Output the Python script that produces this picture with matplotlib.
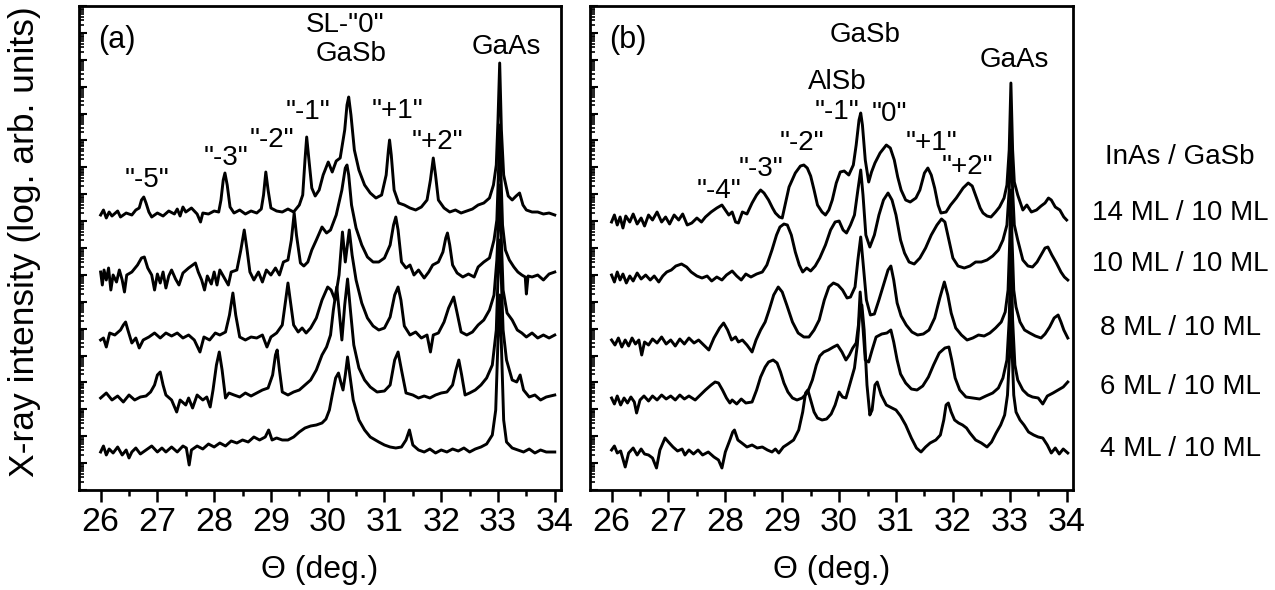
import matplotlib
matplotlib.use('Agg')
import matplotlib.pyplot as plt
from matplotlib.ticker import MultipleLocator, FixedLocator, NullFormatter
import numpy as np

plt.rcParams['font.family'] = ['Liberation Sans', 'DejaVu Sans']

# X-ray scans: (theta in deg, intensity in log. arb. units incl. stacking offset)
# panel (a): InAs/GaSb superlattices
a_14 = [(26.00, 275), (26.05, 280), (26.10, 272), (26.15, 278), (26.20, 274), (26.30, 279), (26.35, 273),
        (26.45, 277), (26.55, 275), (26.62, 280), (26.68, 282), (26.72, 290), (26.76, 293), (26.80, 287),
        (26.85, 278), (26.90, 273), (27.00, 277), (27.10, 274), (27.20, 279), (27.30, 276), (27.35, 281),
        (27.40, 274), (27.45, 283), (27.50, 278), (27.60, 282), (27.70, 276), (27.76, 268), (27.80, 277),
        (27.90, 276), (28.00, 279), (28.08, 278), (28.12, 290), (28.16, 310), (28.19, 317), (28.23, 305),
        (28.28, 283), (28.35, 277), (28.45, 280), (28.55, 276), (28.65, 279), (28.75, 277), (28.83, 281),
        (28.87, 295), (28.91, 318), (28.95, 300), (29.00, 282), (29.10, 279), (29.20, 278), (29.30, 281),
        (29.40, 278), (29.50, 285), (29.56, 295), (29.60, 330), (29.63, 353), (29.67, 330), (29.72, 302),
        (29.78, 294), (29.85, 300), (29.92, 315), (30.01, 328), (30.08, 318), (30.15, 329), (30.22, 332),
        (30.30, 360), (30.34, 385), (30.37, 393), (30.41, 375), (30.47, 340), (30.55, 320), (30.65, 305),
        (30.75, 297), (30.85, 292), (30.95, 295), (31.03, 315), (31.07, 340), (31.09, 350), (31.12, 335),
        (31.17, 300), (31.25, 287), (31.35, 285), (31.45, 282), (31.55, 280), (31.65, 283), (31.75, 290),
        (31.81, 310), (31.86, 332), (31.90, 315), (31.95, 290), (32.05, 282), (32.15, 278), (32.25, 280),
        (32.35, 277), (32.45, 279), (32.55, 281), (32.65, 285), (32.75, 287), (32.85, 292), (32.92, 305),
        (32.97, 325), (33.00, 370), (33.03, 427), (33.06, 360), (33.10, 315), (33.18, 294), (33.25, 290),
        (33.32, 294), (33.38, 297), (33.44, 285), (33.50, 280), (33.60, 278), (33.70, 278), (33.80, 276),
        (33.90, 277), (34.00, 275)]
a_10 = [(26.00, 218), (26.03, 205), (26.06, 220), (26.10, 210), (26.14, 222), (26.18, 200), (26.22, 215),
        (26.28, 208), (26.33, 220), (26.38, 210), (26.42, 198), (26.46, 215), (26.55, 218), (26.65, 225),
        (26.72, 232), (26.77, 233), (26.83, 222), (26.90, 215), (26.95, 200), (27.00, 216), (27.05, 207),
        (27.10, 218), (27.15, 202), (27.20, 214), (27.25, 220), (27.32, 211), (27.38, 205), (27.45, 217),
        (27.55, 222), (27.67, 227), (27.72, 218), (27.78, 210), (27.83, 200), (27.88, 214), (27.95, 206),
        (28.00, 218), (28.05, 205), (28.10, 220), (28.18, 212), (28.25, 205), (28.30, 218), (28.40, 220),
        (28.47, 240), (28.53, 260), (28.58, 240), (28.63, 218), (28.70, 210), (28.78, 218), (28.85, 208),
        (28.92, 220), (29.00, 215), (29.08, 222), (29.15, 215), (29.22, 228), (29.30, 230), (29.36, 250),
        (29.41, 277), (29.45, 255), (29.52, 227), (29.58, 224), (29.65, 228), (29.72, 240), (29.80, 250),
        (29.90, 263), (29.98, 257), (30.05, 260), (30.15, 275), (30.25, 300), (30.31, 322), (30.34, 325),
        (30.37, 315), (30.42, 285), (30.50, 262), (30.60, 245), (30.70, 233), (30.80, 228), (30.90, 228),
        (31.00, 232), (31.10, 245), (31.16, 265), (31.20, 273), (31.24, 260), (31.30, 228), (31.38, 222),
        (31.45, 225), (31.52, 215), (31.60, 220), (31.70, 212), (31.78, 218), (31.85, 225), (31.95, 228),
        (32.03, 238), (32.08, 252), (32.11, 257), (32.15, 245), (32.20, 225), (32.28, 217), (32.38, 213),
        (32.48, 216), (32.58, 213), (32.65, 223), (32.75, 228), (32.85, 232), (32.93, 250), (32.98, 270),
        (33.01, 320), (33.03, 365), (33.05, 320), (33.08, 265), (33.13, 240), (33.20, 230), (33.28, 223),
        (33.35, 218), (33.42, 215), (33.48, 213), (33.50, 196), (33.53, 214), (33.60, 213), (33.70, 215),
        (33.80, 210), (33.90, 216), (34.00, 218)]
a_8 = [(26.00, 150), (26.05, 152), (26.10, 143), (26.16, 157), (26.25, 155), (26.35, 160), (26.40, 165),
       (26.44, 168), (26.48, 160), (26.55, 147), (26.62, 152), (26.68, 142), (26.75, 150), (26.85, 153),
       (26.95, 157), (27.05, 152), (27.15, 157), (27.25, 154), (27.35, 157), (27.45, 152), (27.55, 155),
       (27.65, 150), (27.75, 138), (27.82, 153), (27.92, 150), (28.02, 157), (28.10, 155), (28.20, 158),
       (28.27, 175), (28.33, 197), (28.38, 175), (28.45, 153), (28.55, 150), (28.65, 153), (28.75, 152),
       (28.85, 155), (28.93, 143), (29.00, 153), (29.10, 157), (29.20, 165), (29.26, 190), (29.30, 207),
       (29.34, 190), (29.40, 165), (29.48, 158), (29.55, 162), (29.62, 157), (29.70, 162), (29.80, 172),
       (29.90, 190), (30.00, 203), (30.06, 200), (30.13, 190), (30.20, 215), (30.26, 258), (30.31, 228),
       (30.38, 260), (30.43, 235), (30.50, 210), (30.60, 187), (30.70, 172), (30.80, 164), (30.90, 160),
       (31.00, 162), (31.10, 173), (31.18, 195), (31.24, 203), (31.29, 190), (31.35, 164), (31.45, 155),
       (31.55, 158), (31.65, 152), (31.75, 155), (31.81, 138), (31.86, 155), (31.95, 157), (32.05, 168),
       (32.13, 182), (32.22, 193), (32.28, 177), (32.35, 158), (32.45, 155), (32.55, 158), (32.65, 165),
       (32.75, 170), (32.85, 180), (32.93, 195), (32.98, 230), (33.01, 270), (33.03, 305), (33.05, 265),
       (33.09, 200), (33.16, 177), (33.25, 170), (33.34, 160), (33.42, 157), (33.50, 153), (33.60, 157),
       (33.70, 152), (33.80, 155), (33.90, 152), (34.00, 155)]
a_6 = [(26.00, 92), (26.10, 97), (26.20, 90), (26.30, 94), (26.40, 88), (26.50, 95), (26.60, 90),
       (26.70, 93), (26.80, 94), (26.88, 98), (26.95, 105), (27.00, 115), (27.05, 118), (27.10, 105),
       (27.15, 95), (27.25, 90), (27.34, 78), (27.40, 90), (27.50, 85), (27.55, 92), (27.62, 82),
       (27.70, 95), (27.80, 90), (27.87, 93), (27.93, 83), (27.98, 100), (28.04, 125), (28.09, 138),
       (28.14, 120), (28.20, 92), (28.26, 97), (28.35, 95), (28.45, 93), (28.55, 97), (28.65, 94),
       (28.75, 97), (28.85, 100), (28.95, 102), (29.03, 115), (29.08, 135), (29.11, 140), (29.15, 120),
       (29.20, 98), (29.30, 95), (29.40, 98), (29.50, 100), (29.60, 105), (29.70, 110), (29.80, 120),
       (29.90, 135), (29.98, 143), (30.05, 155), (30.10, 180), (30.16, 203), (30.20, 180), (30.25, 150),
       (30.30, 185), (30.35, 211), (30.40, 180), (30.46, 145), (30.55, 122), (30.65, 110), (30.75, 103),
       (30.87, 98), (31.00, 99), (31.10, 105), (31.18, 130), (31.24, 138), (31.30, 120), (31.38, 97),
       (31.50, 95), (31.60, 92), (31.70, 94), (31.80, 92), (31.90, 95), (32.00, 97), (32.10, 98),
       (32.20, 105), (32.26, 120), (32.31, 130), (32.36, 115), (32.42, 95), (32.50, 97), (32.60, 100),
       (32.70, 105), (32.80, 112), (32.90, 125), (32.97, 160), (33.01, 230), (33.03, 250), (33.05, 225),
       (33.09, 160), (33.15, 130), (33.25, 110), (33.33, 108), (33.39, 115), (33.45, 100), (33.55, 93),
       (33.65, 95), (33.75, 90), (33.85, 93), (34.00, 95)]
a_4 = [(26.00, 38), (26.05, 44), (26.10, 35), (26.15, 41), (26.22, 37), (26.30, 43), (26.38, 35),
       (26.45, 40), (26.50, 32), (26.55, 38), (26.62, 42), (26.70, 36), (26.80, 40), (26.90, 44),
       (27.00, 38), (27.08, 42), (27.15, 38), (27.25, 43), (27.35, 38), (27.45, 44), (27.51, 42),
       (27.56, 25), (27.60, 40), (27.70, 44), (27.80, 41), (27.90, 46), (28.00, 43), (28.10, 47),
       (28.20, 44), (28.30, 49), (28.40, 47), (28.50, 50), (28.60, 48), (28.70, 53), (28.80, 50),
       (28.90, 53), (28.96, 60), (29.02, 50), (29.10, 52), (29.20, 50), (29.30, 50), (29.40, 53),
       (29.50, 58), (29.60, 62), (29.70, 64), (29.80, 65), (29.90, 67), (29.97, 71), (30.03, 80),
       (30.08, 95), (30.14, 112), (30.19, 117), (30.23, 108), (30.27, 100), (30.31, 115), (30.35, 133),
       (30.39, 115), (30.45, 90), (30.55, 70), (30.65, 60), (30.75, 53), (30.90, 48), (31.00, 45),
       (31.10, 43), (31.20, 42), (31.30, 43), (31.38, 50), (31.44, 60), (31.50, 45), (31.60, 40),
       (31.70, 38), (31.80, 41), (31.90, 37), (32.00, 40), (32.10, 38), (32.20, 41), (32.30, 39),
       (32.40, 42), (32.50, 38), (32.60, 41), (32.70, 43), (32.80, 46), (32.90, 55), (32.96, 80),
       (33.00, 150), (33.03, 195), (33.06, 145), (33.10, 70), (33.15, 48), (33.25, 42), (33.35, 40),
       (33.45, 38), (33.55, 41), (33.65, 37), (33.75, 40), (33.85, 38), (34.00, 38)]

# panel (b): InAs/GaSb superlattices with AlSb
b_14 = [(26.00, 268), (26.05, 275), (26.10, 265), (26.15, 273), (26.20, 262), (26.25, 274), (26.32, 268),
        (26.38, 276), (26.45, 266), (26.52, 272), (26.58, 264), (26.65, 275), (26.72, 270), (26.80, 278),
        (26.88, 268), (26.95, 273), (27.02, 266), (27.10, 275), (27.18, 270), (27.25, 276), (27.33, 265),
        (27.41, 267), (27.50, 272), (27.58, 268), (27.65, 273), (27.75, 278), (27.85, 282), (27.94, 285),
        (28.00, 280), (28.06, 275), (28.12, 278), (28.18, 268), (28.23, 267), (28.30, 278), (28.38, 276),
        (28.47, 287), (28.55, 295), (28.62, 300), (28.68, 297), (28.76, 290), (28.83, 282), (28.88, 277),
        (28.95, 273), (29.00, 272), (29.05, 285), (29.12, 303), (29.23, 317), (29.32, 324), (29.38, 325),
        (29.44, 322), (29.50, 314), (29.56, 300), (29.62, 285), (29.70, 278), (29.76, 275), (29.82, 280),
        (29.88, 290), (29.95, 307), (30.02, 318), (30.09, 319), (30.17, 315), (30.25, 325), (30.30, 345),
        (30.35, 370), (30.38, 377), (30.41, 365), (30.46, 330), (30.52, 308), (30.57, 318), (30.63, 327),
        (30.72, 337), (30.83, 345), (30.90, 342), (30.97, 330), (31.03, 313), (31.09, 300), (31.17, 290),
        (31.25, 288), (31.35, 292), (31.42, 300), (31.50, 317), (31.56, 322), (31.62, 315), (31.68, 302),
        (31.74, 285), (31.79, 277), (31.88, 278), (31.96, 285), (32.06, 292), (32.18, 302), (32.27, 307),
        (32.34, 304), (32.41, 293), (32.48, 282), (32.53, 277), (32.60, 274), (32.67, 273), (32.75, 278),
        (32.82, 283), (32.90, 292), (32.95, 305), (32.99, 340), (33.02, 407), (33.05, 340), (33.08, 308),
        (33.14, 295), (33.23, 280), (33.30, 285), (33.38, 278), (33.47, 280), (33.55, 284), (33.62, 287),
        (33.68, 292), (33.73, 290), (33.80, 283), (33.88, 280), (33.95, 273), (34.00, 270)]
b_10 = [(26.00, 215), (26.05, 208), (26.10, 218), (26.15, 210), (26.20, 216), (26.26, 207), (26.32, 214),
        (26.38, 209), (26.45, 217), (26.52, 211), (26.60, 215), (26.68, 210), (26.75, 214), (26.83, 208),
        (26.90, 214), (26.97, 218), (27.05, 220), (27.13, 224), (27.23, 226), (27.32, 223), (27.40, 218),
        (27.50, 214), (27.59, 212), (27.68, 214), (27.76, 209), (27.85, 213), (27.94, 210), (28.02, 215),
        (28.12, 219), (28.20, 214), (28.28, 210), (28.36, 216), (28.45, 213), (28.55, 216), (28.65, 218),
        (28.73, 225), (28.82, 240), (28.90, 255), (28.96, 263), (29.03, 266), (29.09, 265), (29.16, 255),
        (29.23, 238), (29.30, 225), (29.36, 218), (29.43, 222), (29.50, 219), (29.58, 224), (29.66, 232),
        (29.76, 245), (29.85, 260), (29.93, 268), (30.00, 269), (30.07, 260), (30.13, 257), (30.20, 265),
        (30.27, 275), (30.33, 300), (30.38, 320), (30.42, 295), (30.47, 255), (30.54, 243), (30.62, 255),
        (30.70, 275), (30.78, 290), (30.86, 297), (30.93, 290), (31.00, 275), (31.08, 250), (31.15, 237),
        (31.23, 228), (31.32, 226), (31.42, 232), (31.52, 242), (31.62, 255), (31.72, 265), (31.80, 271),
        (31.86, 268), (31.93, 250), (32.00, 232), (32.09, 224), (32.20, 222), (32.30, 224), (32.40, 228),
        (32.50, 228), (32.60, 230), (32.70, 234), (32.80, 240), (32.88, 250), (32.95, 265), (32.99, 300),
        (33.02, 355), (33.05, 300), (33.08, 265), (33.14, 250), (33.23, 230), (33.32, 224), (33.40, 223),
        (33.48, 228), (33.55, 235), (33.62, 242), (33.67, 243), (33.74, 235), (33.82, 227), (33.90, 218),
        (33.96, 213), (34.02, 210)]
b_8 = [(26.00, 150), (26.06, 145), (26.12, 152), (26.18, 143), (26.24, 150), (26.30, 144), (26.36, 152),
       (26.42, 146), (26.48, 150), (26.53, 135), (26.58, 148), (26.65, 145), (26.72, 151), (26.80, 147),
       (26.88, 153), (26.96, 146), (27.04, 150), (27.12, 144), (27.20, 151), (27.28, 146), (27.36, 152),
       (27.45, 147), (27.53, 150), (27.62, 145), (27.71, 140), (27.80, 152), (27.90, 162), (27.97, 167),
       (28.04, 160), (28.11, 150), (28.18, 153), (28.23, 148), (28.30, 150), (28.38, 145), (28.47, 138),
       (28.54, 150), (28.62, 160), (28.70, 168), (28.77, 180), (28.85, 195), (28.93, 203), (29.00, 198),
       (29.08, 185), (29.18, 168), (29.28, 157), (29.38, 153), (29.47, 153), (29.56, 160), (29.65, 170),
       (29.74, 190), (29.82, 203), (29.90, 207), (29.98, 205), (30.06, 200), (30.14, 192), (30.20, 193),
       (30.28, 203), (30.33, 230), (30.38, 253), (30.42, 228), (30.48, 190), (30.55, 175), (30.62, 176),
       (30.70, 190), (30.78, 205), (30.86, 220), (30.91, 224), (30.96, 210), (31.02, 187), (31.09, 174),
       (31.18, 165), (31.28, 158), (31.38, 155), (31.48, 156), (31.58, 160), (31.68, 172), (31.77, 192),
       (31.85, 208), (31.91, 195), (31.97, 177), (32.05, 162), (32.15, 155), (32.25, 150), (32.35, 152),
       (32.45, 155), (32.55, 154), (32.65, 157), (32.75, 162), (32.85, 168), (32.92, 178), (32.97, 200),
       (33.00, 250), (33.02, 300), (33.04, 250), (33.07, 200), (33.11, 183), (33.18, 168), (33.26, 160),
       (33.35, 157), (33.45, 154), (33.55, 152), (33.62, 156), (33.70, 163), (33.78, 172), (33.85, 175),
       (33.90, 168), (33.95, 160), (34.02, 152)]
b_6 = [(26.00, 92), (26.05, 86), (26.10, 94), (26.16, 85), (26.22, 92), (26.28, 87), (26.34, 93),
       (26.40, 88), (26.44, 77), (26.50, 90), (26.57, 94), (26.65, 89), (26.72, 94), (26.80, 90),
       (26.88, 95), (26.96, 91), (27.04, 94), (27.12, 90), (27.20, 95), (27.28, 91), (27.36, 94),
       (27.47, 90), (27.56, 95), (27.65, 100), (27.75, 105), (27.82, 108), (27.88, 107), (27.95, 100),
       (28.02, 92), (28.08, 87), (28.12, 90), (28.20, 86), (28.28, 91), (28.36, 87), (28.47, 88),
       (28.55, 100), (28.62, 113), (28.70, 123), (28.76, 128), (28.84, 130), (28.91, 127), (28.97, 118),
       (29.03, 107), (29.10, 98), (29.18, 92), (29.26, 90), (29.35, 92), (29.44, 97), (29.53, 110),
       (29.60, 125), (29.66, 134), (29.73, 138), (29.81, 140), (29.90, 143), (29.97, 145), (30.05, 138),
       (30.12, 130), (30.18, 135), (30.24, 142), (30.30, 147), (30.34, 165), (30.37, 198), (30.41, 170),
       (30.46, 130), (30.52, 128), (30.58, 140), (30.65, 153), (30.75, 156), (30.84, 157), (30.91, 160),
       (30.96, 148), (31.02, 130), (31.08, 116), (31.17, 107), (31.27, 101), (31.37, 100), (31.47, 104),
       (31.57, 113), (31.66, 125), (31.76, 137), (31.86, 142), (31.93, 143), (31.98, 130), (32.04, 112),
       (32.12, 100), (32.23, 93), (32.35, 92), (32.47, 91), (32.58, 94), (32.70, 97), (32.80, 102),
       (32.88, 112), (32.95, 130), (32.99, 170), (33.02, 245), (33.05, 170), (33.09, 125), (33.14, 110),
       (33.23, 100), (33.32, 95), (33.40, 93), (33.50, 92), (33.58, 86), (33.66, 94), (33.76, 97),
       (33.85, 100), (33.94, 103), (34.02, 108)]
b_4 = [(26.00, 40), (26.05, 44), (26.10, 37), (26.16, 39), (26.24, 23), (26.30, 37), (26.38, 42),
       (26.45, 35), (26.52, 41), (26.58, 36), (26.65, 35), (26.72, 32), (26.79, 22), (26.85, 40),
       (26.94, 52), (27.00, 48), (27.08, 43), (27.16, 39), (27.24, 41), (27.29, 35), (27.36, 40),
       (27.44, 36), (27.52, 40), (27.60, 35), (27.70, 38), (27.80, 33), (27.88, 30), (27.94, 22),
       (28.00, 38), (28.08, 50), (28.13, 58), (28.16, 60), (28.22, 50), (28.29, 47), (28.38, 43),
       (28.47, 45), (28.56, 42), (28.65, 43), (28.74, 40), (28.82, 38), (28.88, 41), (28.94, 37),
       (29.02, 43), (29.10, 46), (29.20, 50), (29.29, 60), (29.36, 78), (29.41, 97), (29.45, 100),
       (29.50, 90), (29.56, 78), (29.62, 72), (29.70, 70), (29.78, 71), (29.86, 76), (29.93, 85),
       (30.00, 98), (30.06, 93), (30.12, 92), (30.20, 108), (30.27, 122), (30.32, 145), (30.36, 175),
       (30.40, 185), (30.44, 160), (30.49, 105), (30.54, 75), (30.58, 80), (30.63, 105), (30.67, 108),
       (30.74, 95), (30.83, 85), (30.93, 82), (31.00, 80), (31.08, 74), (31.17, 65), (31.27, 52),
       (31.36, 42), (31.44, 38), (31.52, 43), (31.60, 47), (31.70, 50), (31.78, 55), (31.84, 70),
       (31.88, 85), (31.92, 87), (31.97, 78), (32.03, 70), (32.10, 67), (32.17, 65), (32.24, 62),
       (32.30, 57), (32.40, 50), (32.50, 47), (32.60, 43), (32.68, 48), (32.76, 57), (32.84, 65),
       (32.91, 75), (32.96, 95), (33.00, 140), (33.02, 190), (33.04, 140), (33.07, 95), (33.11, 78),
       (33.18, 70), (33.25, 65), (33.33, 58), (33.42, 55), (33.50, 53), (33.58, 52), (33.66, 45),
       (33.73, 37), (33.80, 42), (33.87, 36), (33.94, 41), (34.02, 37)]

sample_names = ['14 ML / 10 ML', '10 ML / 10 ML', '8 ML / 10 ML', '6 ML / 10 ML', '4 ML / 10 ML']

# peak labels: (text, theta, intensity)
labels_a = [('SL-"0"', 30.31, 465), ('GaSb', 30.41, 436), ('GaAs', 33.15, 443),
            ('"-1"', 29.66, 378), ('"-2"', 29.02, 350), ('"-3"', 28.21, 332), ('"-5"', 26.82, 310),
            ('"+1"', 31.23, 379), ('"+2"', 31.93, 348)]
labels_b = [('GaSb', 30.45, 455), ('AlSb', 29.96, 408), ('GaAs', 33.08, 430),
            ('"-1"', 29.96, 378), ('"0"', 30.88, 376), ('"-2"', 29.34, 347), ('"-3"', 28.62, 321),
            ('"-4"', 27.88, 299), ('"+1"', 31.62, 347), ('"+2"', 32.26, 323)]

# intensity axis spans 18 decades; ticks sit at decades and at 2..9 within each
n_dec = 18
dec = 484 / n_dec
major_y = [k * dec for k in range(n_dec + 1)]
minor_y = [k * dec + dec * np.log10(m) for k in range(n_dec) for m in range(2, 10)]


def draw_panel(ax, curves, labels, letter):
    for c in curves:
        arr = np.array(c)
        ax.plot(arr[:, 0], arr[:, 1], color='black', lw=2.1, solid_joinstyle='round')
    for txt, x, y in labels:
        ax.text(x, y, txt, ha='center', va='center', fontsize=20)
    ax.text(0.04, 0.93, letter, transform=ax.transAxes, ha='left', va='center', fontsize=22)

    ax.set_xlim(25.62, 34.11)
    ax.set_ylim(0, 484)
    ax.xaxis.set_major_locator(MultipleLocator(1))
    ax.xaxis.set_minor_locator(MultipleLocator(0.5))
    ax.yaxis.set_major_locator(FixedLocator(major_y))
    ax.yaxis.set_minor_locator(FixedLocator(minor_y))
    ax.yaxis.set_major_formatter(NullFormatter())
    ax.tick_params(axis='x', which='major', direction='out', length=8.5, width=1.8,
                   labelsize=24.5, pad=4)
    ax.tick_params(axis='x', which='minor', direction='out', length=4.5, width=1.8)
    ax.tick_params(axis='y', which='major', direction='in', length=6, width=1.5)
    ax.tick_params(axis='y', which='minor', direction='in', length=3.5, width=1.2)
    for s in ax.spines.values():
        s.set_linewidth(2)
    ax.set_xlabel('Θ (deg.)', fontsize=23)
    ax.xaxis.set_label_coords(0.5, -0.165)
    ax.xaxis.label.set_va('center')


fig = plt.figure(figsize=(12.75, 5.9), dpi=100)
ax_a = fig.add_axes([0.062, 0.1695, 0.378, 0.8203])
ax_b = fig.add_axes([0.4627, 0.1695, 0.3788, 0.8203])

draw_panel(ax_a, [a_14, a_10, a_8, a_6, a_4], labels_a, '(a)')
draw_panel(ax_b, [b_14, b_10, b_8, b_6, b_4], labels_b, '(b)')

fig.text(0.0196, 0.59, 'X-ray intensity (log. arb. units)', rotation=90,
         ha='center', va='center', fontsize=25.5)

fig.text(0.9255, 0.734, 'InAs / GaSb', ha='center', va='center', fontsize=20)
for name, yf in zip(sample_names, [0.639, 0.553, 0.444, 0.344, 0.239]):
    fig.text(0.9255, yf, name, ha='center', va='center', fontsize=20)

fig.savefig('out.png', dpi=100)
